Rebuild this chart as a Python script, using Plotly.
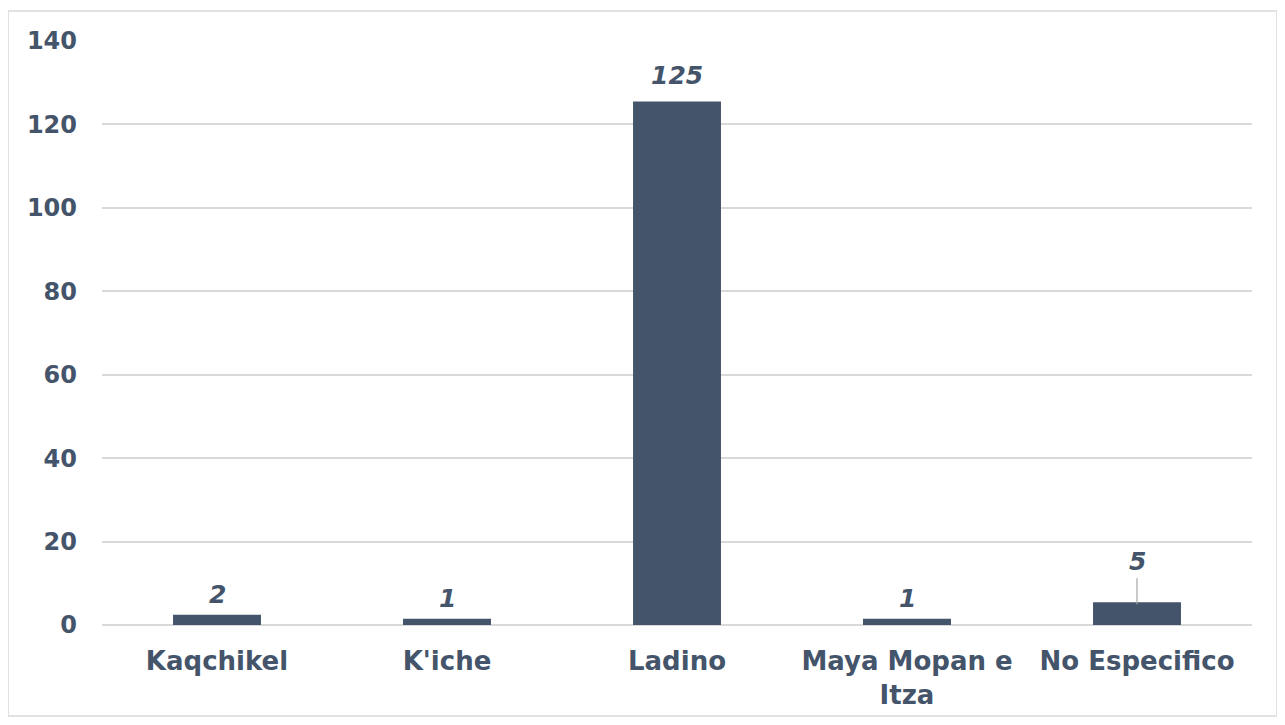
import plotly.graph_objects as go

categories = ["Kaqchikel", "K'iche", "Ladino", "Maya Mopan e<br>Itza", "No Especifico"]
values = [2, 1, 125, 1, 5]
tick_vals = [0, 20, 40, 60, 80, 100, 120, 140]

BAR = "#44546A"
TXT = "#44546A"
FONT = "DejaVu Sans"

fig = go.Figure()
fig.add_trace(go.Bar(
    x=categories, y=values,
    marker=dict(color=BAR, line=dict(width=4, color=BAR)),
    width=0.365,
    hoverinfo="skip",
))

for c, v in zip(categories, values):
    big = v >= 5 and v < 100
    fig.add_annotation(
        x=c, y=v, text=f"<i>{v}</i>",
        showarrow=big, arrowhead=0, arrowwidth=1.2, arrowcolor="#a6a6a6",
        ax=0, ay=-26 if big else 0,
        yanchor="bottom", yshift=0 if big else (12 if v >= 100 else 6),
        font=dict(family=FONT, size=25, color=TXT, weight="bold"),
    )

# plot area in page px: x 102..1252, y 41..625 ; figure starts at page (8, 8)
x0 = (8 - 102) / 1150
x1 = (1277 - 102) / 1150
y0 = (625 - 716) / 584
y1 = (625 - 11) / 584
fig.add_shape(type="rect", xref="paper", yref="paper", x0=x0, x1=x1, y0=y0, y1=y1,
              line=dict(color="#d9d9d9", width=1.5), fillcolor="rgba(0,0,0,0)", layer="below")

fig.update_layout(
    width=1269, height=709,
    margin=dict(l=94, r=25, t=33, b=92, autoexpand=False),
    paper_bgcolor="white", plot_bgcolor="white",
    showlegend=False,
    bargap=0.62,
    font=dict(family=FONT, color=TXT),
    xaxis=dict(
        tickfont=dict(family=FONT, size=26, color=TXT, weight="bold"),
        showline=False, showgrid=False, ticks="", ticklabelstandoff=18,
    ),
    yaxis=dict(
        range=[0, 140], tickvals=tick_vals,
        tickfont=dict(family=FONT, size=24, color=TXT, weight="bold"),
        showgrid=True, gridcolor="#d9d9d9", gridwidth=1.5,
        zeroline=True, zerolinecolor="#d9d9d9", zerolinewidth=1.5,
        showline=False, ticks="", ticklabelstandoff=24,
    ),
)

fig.write_html("out.html")
